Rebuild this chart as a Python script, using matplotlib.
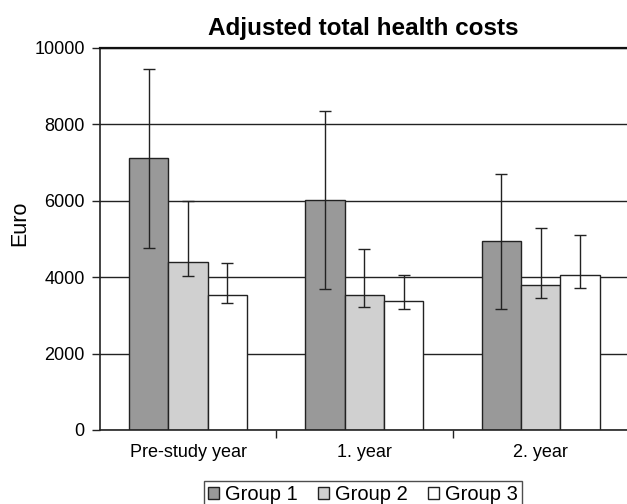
import matplotlib
matplotlib.use("Agg")
import matplotlib.pyplot as plt
import numpy as np
from matplotlib.patches import Patch

plt.rcParams['font.family'] = ['Liberation Sans', 'DejaVu Sans']

categories = ["Pre-study year", "1. year", "2. year"]
groups = ["Group 1", "Group 2", "Group 3"]
values = {
    "Group 1": [7110, 6020, 4950],
    "Group 2": [4400, 3530, 3800],
    "Group 3": [3540, 3390, 4070],
}
lower = {
    "Group 1": [4770, 3700, 3180],
    "Group 2": [4030, 3210, 3460],
    "Group 3": [3320, 3180, 3730],
}
upper = {
    "Group 1": [9450, 8340, 6700],
    "Group 2": [6000, 4730, 5280],
    "Group 3": [4360, 4070, 5100],
}
colors = {"Group 1": "#999999", "Group 2": "#d0d0d0", "Group 3": "#ffffff"}
yticks = [0, 2000, 4000, 6000, 8000, 10000]

fig = plt.figure(figsize=(6.27, 5.04), dpi=100)
ax = fig.add_axes([100/627, 1-430/504, 1-100/627, (430-48)/504])

x = np.arange(len(categories))
w = 0.223
for i, g in enumerate(groups):
    v = np.array(values[g])
    lo = v - np.array(lower[g])
    hi = np.array(upper[g]) - v
    ax.bar(x + (i-1)*w, v, width=w, color=colors[g], edgecolor="#222222",
           linewidth=1.0, zorder=2, label=g)
    ax.errorbar(x + (i-1)*w, v, yerr=[lo, hi], fmt="none", ecolor="#222222",
                elinewidth=1.0, capsize=4, capthick=1.0, zorder=3)

ax.set_xlim(-0.5, 2.49)
ax.set_ylim(0, 10000)
ax.set_yticks(yticks)
ax.set_yticklabels([str(t) for t in yticks], fontsize=13)
ax.yaxis.grid(True, color="#222222", linewidth=1.0, zorder=0)
ax.set_axisbelow(True)
ax.tick_params(axis='y', direction='out', length=6, width=1, pad=5, color="#222222")

ax.set_xticks(x)
ax.set_xticklabels(categories, fontsize=13)
ax.set_xticks([0.5, 1.5], minor=True)
ax.tick_params(axis='x', which='major', length=0, pad=10)
ax.tick_params(axis='x', which='minor', direction='out', length=6, width=1, color="#222222")

for s in ["left", "bottom"]:
    ax.spines[s].set_color("#222222")
    ax.spines[s].set_linewidth(1.2)
ax.spines["top"].set_color("#111111")
ax.spines["top"].set_linewidth(1.6)
ax.spines["right"].set_visible(False)

fig.text(20/627, 1-223/504, "Euro", fontsize=15.5, rotation=90, ha="center", va="center")
fig.text(363/627, 1-28/504, "Adjusted total health costs", fontsize=17.5,
         fontweight="bold", ha="center", va="center")

handles = [Patch(facecolor=colors[g], edgecolor="#222222", linewidth=1.0) for g in groups]
leg = fig.legend(handles, groups, loc="upper center", bbox_to_anchor=(363/627, 1-481/504),
                 ncol=3, fontsize=14.5, frameon=True, fancybox=False, edgecolor="#222222",
                 handlelength=0.55, handleheight=0.55, handletextpad=0.3, columnspacing=1.0,
                 borderpad=0.2, borderaxespad=0)
leg.get_frame().set_linewidth(1.0)

fig.savefig("out.png", dpi=100)
